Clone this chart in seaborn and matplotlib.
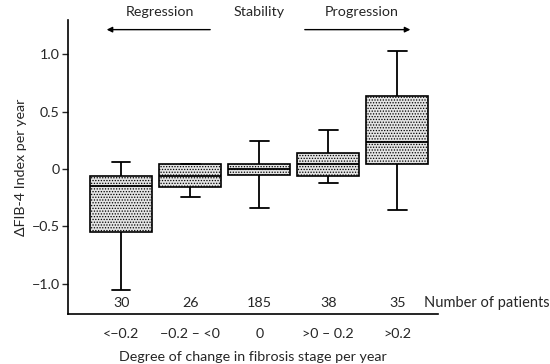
import numpy as np
import pandas as pd
import matplotlib
matplotlib.use("Agg")
import matplotlib.pyplot as plt
import seaborn as sns

categories = ["<\u22120.2", "\u22120.2 \u2013 <0", "0", ">0 \u2013 0.2", ">0.2"]
patients = [30, 26, 185, 38, 35]
# five-number summaries: low whisker, Q1, median, Q3, high whisker
whis_low = [-1.05, -0.24, -0.34, -0.12, -0.36]
q1 = [-0.55, -0.155, -0.055, -0.056, 0.044]
median = [-0.15, -0.06, 0.0, 0.044, 0.24]
q3 = [-0.06, 0.045, 0.045, 0.14, 0.64]
whis_high = [0.06, 0.045, 0.245, 0.34, 1.03]

rows = []
for c, a, b, m, d, e in zip(categories, whis_low, q1, median, q3, whis_high):
    for v in (a, b, m, d, e):
        rows.append({"group": c, "value": v})
df = pd.DataFrame(rows)

sns.set_style("ticks")
plt.rcParams["font.family"] = ["Lato", "DejaVu Sans"]
plt.rcParams["hatch.color"] = "#7a7a7a"
plt.rcParams["hatch.linewidth"] = 0.6

fig = plt.figure(figsize=(5.5, 3.64), dpi=100)
ax = fig.add_axes([68 / 550, 1 - 314 / 364, (438 - 68) / 550, (314 - 20) / 364])

sns.boxplot(data=df, x="group", y="value", order=categories, whis=np.inf,
            width=0.9, color="#e4e4e4", linecolor="black", linewidth=1.2,
            ax=ax)
for p in ax.patches:
    p.set_hatch("......")
    p.set_edgecolor("black")
for ln in ax.lines:
    ln.set_color("black")
    ln.set_linewidth(1.3)

# narrower whisker caps
caps = []
for cont in ax.containers:
    if hasattr(cont, "caps"):
        caps.extend(cont.caps)
for cap in caps:
    xd = np.asarray(cap.get_xdata(), dtype=float)
    c = xd.mean()
    cap.set_xdata([c - 0.135, c + 0.135])

ax.set_xlim(-0.77, 4.59)
ax.set_ylim(-1.263, 1.30)
ax.set_yticks([1.0, 0.5, 0, -0.5, -1.0])
ax.set_yticklabels(["1.0", "0.5", "0", "\u22120.5", "\u22121.0"], fontsize=10.3)
ax.tick_params(axis="y", length=4, width=1, pad=2)
ax.tick_params(axis="x", length=0, pad=10, labelsize=10.3)
sns.despine(ax=ax)
for s in ("left", "bottom"):
    ax.spines[s].set_linewidth(1.2)
    ax.spines[s].set_color("black")

ax.set_xlabel("Degree of change in fibrosis stage per year", fontsize=10.3, labelpad=8)
ax.set_ylabel("\u0394FIB-4 Index per year", fontsize=10.3, labelpad=3)

for i, n in enumerate(patients):
    ax.text(i, -1.17, str(n), ha="center", va="center", fontsize=10.3)
ax.text(4.39, -1.17, "Number of patients", ha="left", va="center", fontsize=10.5,
        clip_on=False)

ax.text(0.565, 1.32, "Regression", ha="center", va="bottom", fontsize=10.3, clip_on=False)
ax.text(2.0, 1.32, "Stability", ha="center", va="bottom", fontsize=10.3, clip_on=False)
ax.text(3.49, 1.32, "Progression", ha="center", va="bottom", fontsize=10.3, clip_on=False)
ax.annotate("", xy=(-0.25, 1.216), xytext=(1.33, 1.216),
            arrowprops=dict(arrowstyle="-|>", color="black", lw=1.0, mutation_scale=8),
            annotation_clip=False)
ax.annotate("", xy=(4.23, 1.216), xytext=(2.62, 1.216),
            arrowprops=dict(arrowstyle="-|>", color="black", lw=1.0, mutation_scale=8),
            annotation_clip=False)

fig.savefig("out.png", dpi=100)
